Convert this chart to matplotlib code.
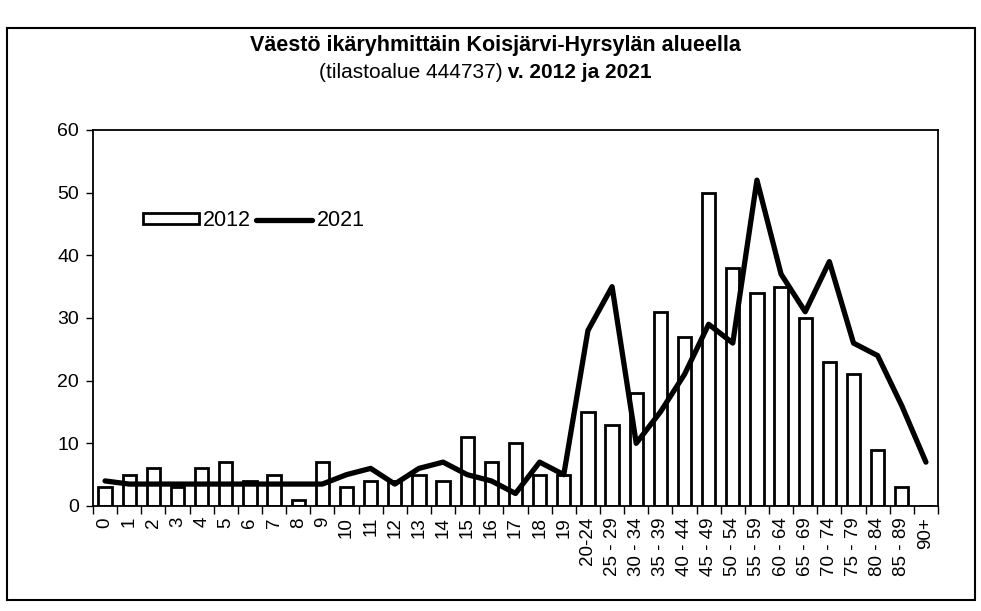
import matplotlib
matplotlib.use("Agg")
import matplotlib.pyplot as plt
from matplotlib.patches import Rectangle
import numpy as np

# ── data ─────────────────────────────────────────────────────────────
ages = ["0", "1", "2", "3", "4", "5", "6", "7", "8", "9",
        "10", "11", "12", "13", "14", "15", "16", "17", "18", "19",
        "20-24", "25 - 29", "30 - 34", "35 - 39", "40 - 44", "45 - 49",
        "50 - 54", "55 - 59", "60 - 64", "65 - 69", "70 - 74", "75 - 79",
        "80 - 84", "85 - 89", "90+"]

pop_2012 = [3, 5, 6, 3, 6, 7, 4, 5, 1, 7,
            3, 4, 4, 5, 4, 11, 7, 10, 5, 5,
            15, 13, 18, 31, 27, 50, 38, 34, 35, 30, 23, 21, 9, 3, 0]

pop_2021 = [4, 3.5, 3.5, 3.5, 3.5, 3.5, 3.5, 3.5, 3.5, 3.5,
            5, 6, 3.5, 6, 7, 5, 4, 2, 7, 5,
            28, 35, 10, 15, 21, 29, 26, 52, 37, 31, 39, 26, 24, 16, 7]

title_1 = "Väestö ikäryhmittäin Koisjärvi-Hyrsylän alueella"
title_2a = "(tilastoalue 444737)"
title_2b = " v. 2012 ja 2021"

plt.rcParams["font.family"] = ["Liberation Sans", "DejaVu Sans"]

# ── figure ───────────────────────────────────────────────────────────
fig = plt.figure(figsize=(9.81, 6.11), dpi=100)
ax = fig.add_axes([93 / 981, 1 - 506 / 611, 845 / 981, 376 / 611])

x = np.arange(len(ages))
bars = ax.bar(x, pop_2012, width=0.55, color="white", edgecolor="black",
              linewidth=2.0, zorder=2)
line, = ax.plot(x, pop_2021, color="black", linewidth=3.8,
                solid_joinstyle="round", solid_capstyle="round", zorder=3)

ax.set_xlim(-0.5, len(ages) - 0.5)
ax.set_ylim(0, 60)
ax.set_yticks(range(0, 61, 10))
ax.tick_params(axis="y", length=5, width=1, labelsize=14, pad=5)

# ticks between categories, labels at centres
ax.set_xticks(np.arange(len(ages) + 1) - 0.5)
ax.set_xticklabels([])
ax.set_xticks(x, ages, minor=True, rotation=90)
ax.tick_params(axis="x", which="major", length=6, width=1)
ax.tick_params(axis="x", which="minor", length=0, labelsize=13.5, pad=8)

for s in ax.spines.values():
    s.set_linewidth(1.3)

ax.legend([bars, line], ["2012", "2021"], loc="center left",
          bbox_to_anchor=(0.046, 0.758), ncol=2, frameon=False,
          fontsize=15.5, handlelength=2.6, handleheight=0.42,
          handletextpad=0.2, columnspacing=0.25, borderpad=0)

# ── titles ───────────────────────────────────────────────────────────
fig.text(0.505, 1 - 45 / 611, title_1, ha="center", va="center",
         fontsize=15.5, fontweight="bold")
fig.text(0.512, 1 - 72 / 611, title_2a, ha="right", va="center",
         fontsize=15)
fig.text(0.512, 1 - 72 / 611, title_2b, ha="left", va="center",
         fontsize=15, fontweight="bold")

# outer chart frame
fig.patches.append(Rectangle((7 / 981, 11 / 611), 968 / 981, 572 / 611,
                             transform=fig.transFigure, fill=False,
                             edgecolor="black", linewidth=1.5))

fig.savefig("out.png", dpi=100)
